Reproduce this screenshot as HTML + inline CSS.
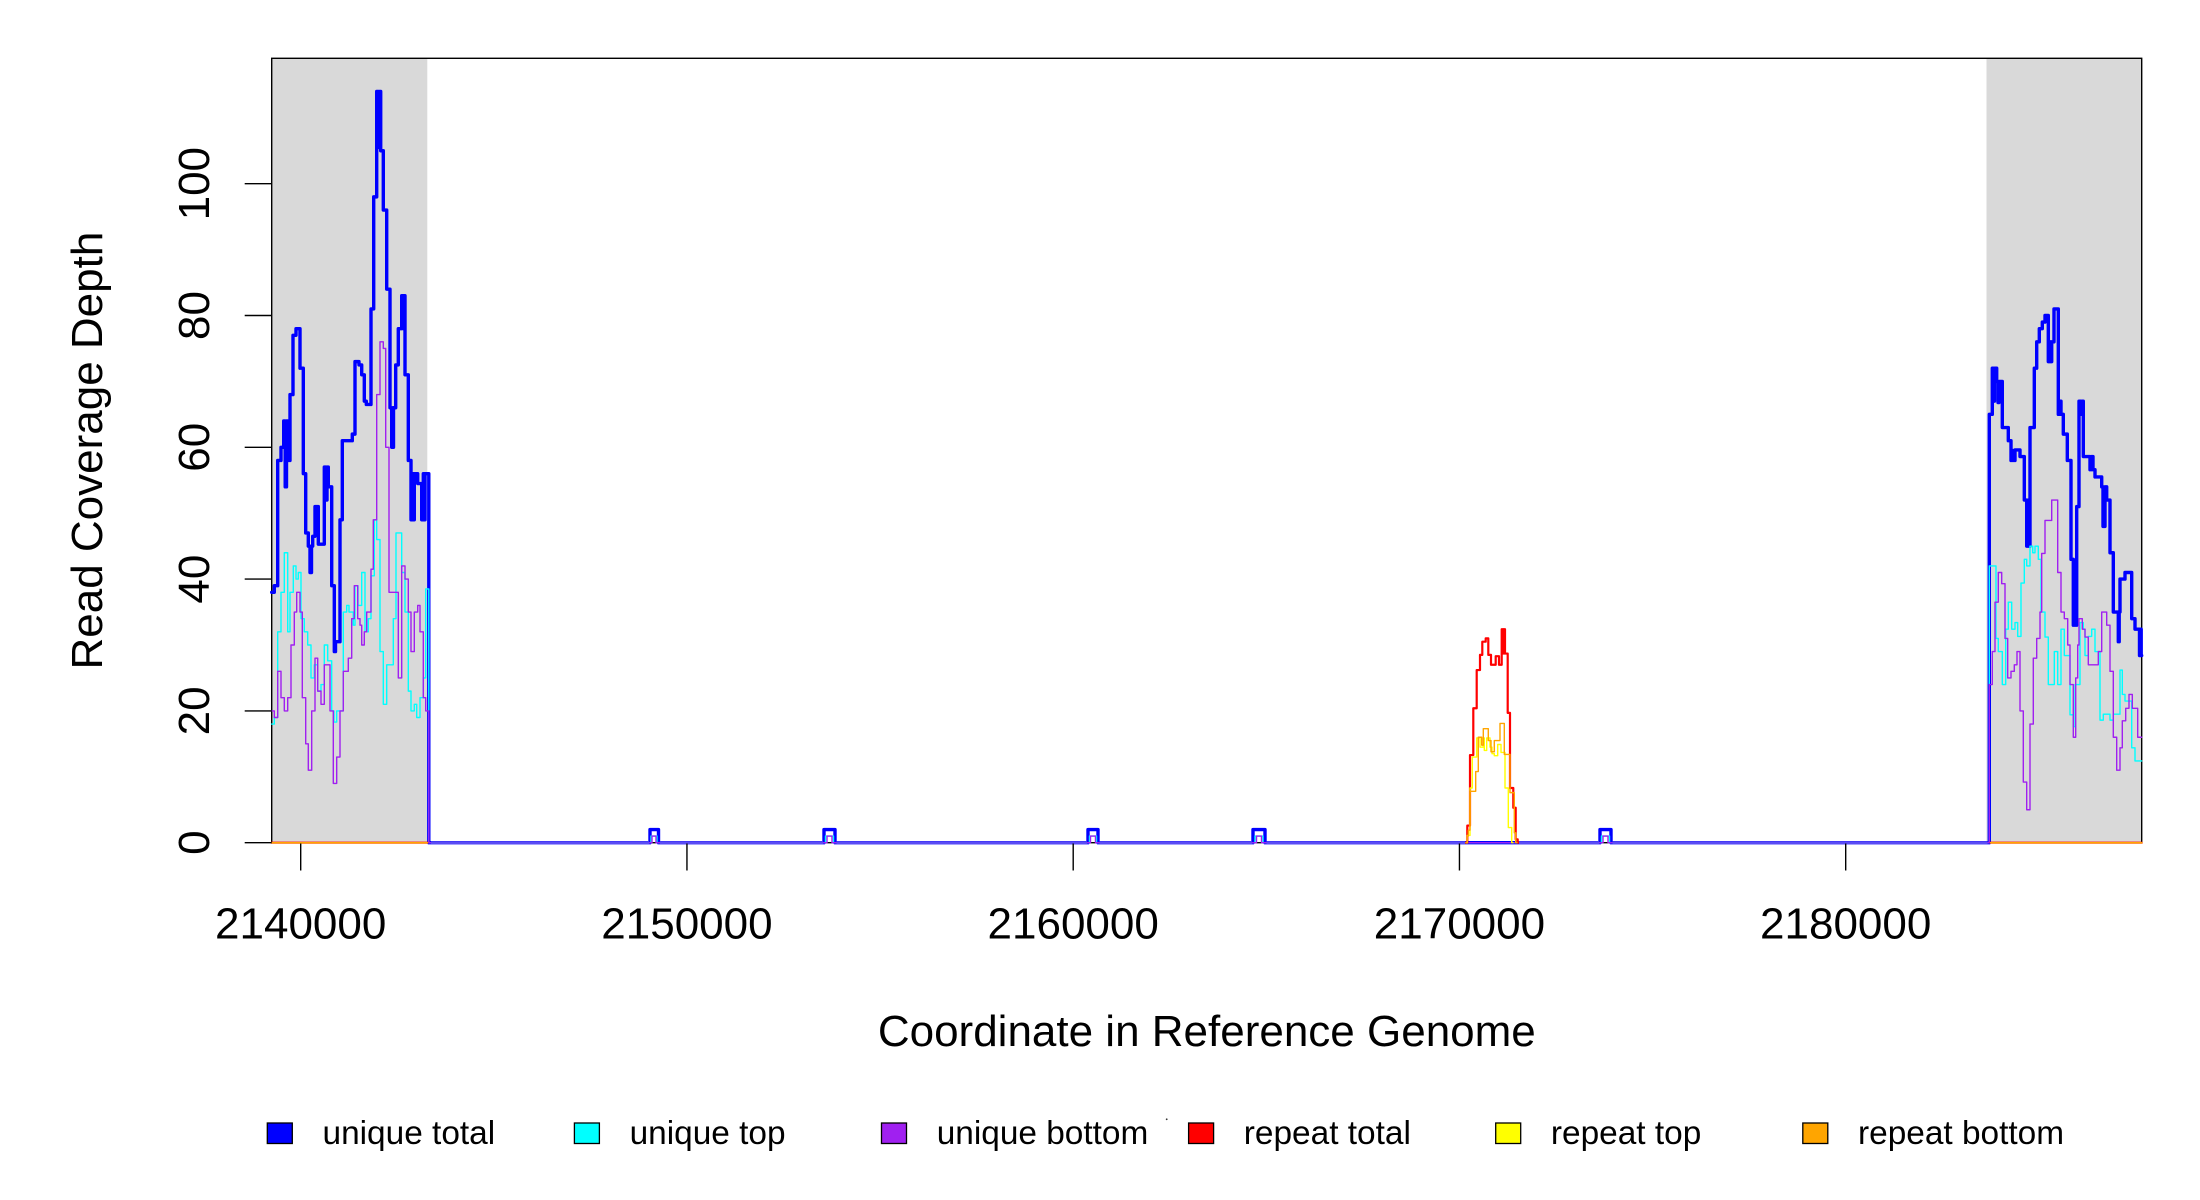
<!DOCTYPE html>
<html>
<head>
<meta charset="utf-8">
<style>
html,body{margin:0;padding:0;background:#fff;}
svg{display:block;}
text{font-family:"Liberation Sans",Arial,sans-serif;fill:#000;}
</style>
</head>
<body>
<svg width="2200" height="1200" viewBox="0 0 2200 1200" xmlns="http://www.w3.org/2000/svg">
<rect x="0" y="0" width="2200" height="1200" fill="#fff"/>
<!-- gray regions -->
<rect x="271.7" y="58.3" width="155.6" height="784.4" fill="#D9D9D9"/>
<rect x="1986.5" y="58.3" width="155.2" height="784.4" fill="#D9D9D9"/>

<!-- box (drawn before series so lines cover bottom edge) -->
<rect x="271.7" y="58.3" width="1870" height="784.4" fill="none" stroke="#000" stroke-width="1.4"/>

<g transform="translate(0,842.7) scale(1,-6.59)" fill="none" stroke-linejoin="round" stroke-linecap="round">
<!-- unique total -->
<path vector-effect="non-scaling-stroke" stroke="#0000FF" stroke-width="3.4" d="M271.7 38 H274.3 V39 H277.7 V58 H281 V60 H283.7 V64 H285.2 V54 H286.5 V64 H287.7 V58 H290 V68 H293 V77 H296 V78 H300 V72 H303.3 V56 H305.7 V47 H308.3 V45 H310 V41 H311.5 V45 H312.7 V46.5 H315 V51 H318.3 V45.3 H324.3 V57 H326 V52 H327 V57 H328.3 V54 H331.7 V39 H334.3 V29 H335.5 V30.5 H340 V49 H342.3 V61 H352.3 V62 H355 V73 H359 V72.5 H361.7 V71 H364.3 V67 H366.3 V66.5 H371 V81 H373.7 V98 H376.7 V114 H378.5 V105.5 H379.5 V114 H380.7 V105 H383.3 V96 H386.7 V84 H390 V66 H391.7 V60 H393.5 V66 H395.7 V72.5 H398.3 V78 H401.7 V83 H403.3 V78 H404 V83 H405 V71 H408.3 V58 H411 V49 H412.7 V56 H413.5 V49 H414.3 V56 H417.7 V54.5 H421.7 V49 H423.3 V56 H424.2 V49 H425 V56 H428.8 V0 H650 V2 H658.5 V0 H824 V2 H835 V0 H1088 V2 H1098 V0 H1253 V2 H1265 V0 H1600 V2 H1611 V0 H1989.3 V65 H1992.3 V72 H1993.5 V67 H1994.5 V72 H1996.7 V70 H1998 V66.8 H1999 V70 H2002.3 V63 H2008.3 V61 H2011 V58 H2013 V59.5 H2014 V58 H2015 V59.6 H2020 V58.6 H2024.3 V52 H2026.7 V45 H2028.3 V52 H2029.2 V45 H2030 V63 H2034.3 V72 H2036.7 V76 H2039.3 V78 H2042.3 V79 H2045 V80 H2048.3 V73 H2050 V76 H2050.8 V73 H2051.7 V76 H2054 V81 H2058.3 V65 H2060 V67 H2061 V65 H2063.3 V62 H2067.3 V58 H2071 V43 H2073.3 V33 H2075 V38 H2076 V33 H2076.7 V51 H2079 V67 H2081 V65 H2082 V67 H2083.3 V58.6 H2090 V56.6 H2091.5 V58.6 H2093 V56.6 H2095 V55.5 H2101.7 V54 H2103 V48 H2105 V54 H2106.7 V52 H2110 V44 H2113.3 V35 H2118.3 V30.5 H2119.2 V35 H2120 V40 H2125 V41 H2131.7 V34 H2135 V32.4 H2139.5 V28.4 H2140.5 V32.4 H2141.2 V28.4 H2141.7"/>
<!-- unique top -->
<path vector-effect="non-scaling-stroke" stroke="#00FFFF" stroke-width="1.4" d="M271.7 18 H274.3 V19 H277.7 V32 H281 V38 H284.3 V44 H287.7 V32 H290 V38 H293.3 V42 H296 V40 H298.3 V41 H301 V34 H304.3 V32 H307.7 V30 H311 V25 H314.3 V27 H317.7 V23 H321 V24 H324.3 V30 H327.7 V27.6 H331.7 V20 H334 V18.3 H336.7 V20 H343.3 V35 H346.7 V36 H349 V35 H353.3 V33 H355 V39 H358 V36 H361.7 V41 H365 V32 H368.3 V34 H371 V40.5 H374.3 V49 H376.7 V46 H380 V29 H383.3 V21 H386.7 V27 H393.3 V34 H396 V47 H401.7 V41 H405 V35 H408.3 V23 H411 V20 H414.3 V21 H416.7 V19 H420 V22 H423.3 V25 H425.7 V38.5 H428.8 V0 H651 V1 H657 V0 H825.5 V1 H833.5 V0 H1089.5 V1 H1096.5 V0 H1255 V1 H1263 V0 H1601.5 V1 H1609.5 V0 H1989.3 V42 H1996 V31 H1998.3 V29 H2002.3 V24 H2005.7 V32.4 H2008.3 V36.5 H2011.7 V32.4 H2015 V33.4 H2017.7 V31.3 H2021 V39.4 H2024.3 V43 H2026.7 V42 H2030 V45 H2032.7 V44 H2035 V45 H2038.3 V43 H2041 V35 H2045 V31.2 H2048.3 V24 H2054.3 V29 H2057.7 V24 H2061 V32.4 H2064.3 V28.4 H2070 V19.4 H2073.3 V17.6 H2075 V24 H2080 V33.4 H2083.3 V32.4 H2085 V28.4 H2088.3 V31.3 H2091.7 V32.4 H2095 V29 H2100 V18.6 H2103.3 V19.5 H2110 V18.6 H2113.3 V19.5 H2120 V26.2 H2122.3 V22.5 H2125 V21.5 H2131.7 V14.4 H2135 V12.4 H2141.7"/>
<!-- unique bottom -->
<path vector-effect="non-scaling-stroke" stroke="#A020F0" stroke-width="1.4" d="M271.7 20 H274.3 V19 H277.7 V26 H281 V22 H284.3 V20 H287.7 V22 H291 V30 H294.3 V35 H296.7 V38 H300 V35 H302.3 V22 H305.7 V15 H308.3 V11 H311.7 V20 H315 V28 H317.7 V23 H321 V21 H324.3 V27 H330 V20 H333.3 V9 H336.7 V13 H340 V20 H343.3 V26 H348.3 V28 H351.7 V34 H354.3 V39 H357.7 V34 H360 V33 H361.7 V30 H364.3 V32 H366.7 V35 H371 V41.5 H373.3 V49 H376.7 V68 H380 V76 H383.3 V75 H385.7 V60 H389 V38 H398.3 V25 H401.7 V42 H405 V40 H408.3 V35 H411 V29 H414.3 V35 H417.7 V36 H420 V32 H423.3 V22 H425.7 V20 H428.8 V0 H652 V1 H656 V0 H827 V1 H832 V0 H1090.5 V1 H1095.5 V0 H1256.5 V1 H1261.5 V0 H1603 V1 H1608 V0 H1989.3 V24 H1992.3 V29 H1995 V36.5 H1998.3 V41 H2001.7 V39.3 H2005 V31 H2007.7 V25 H2011 V26 H2014.3 V27 H2017 V29 H2020 V20 H2023.3 V9.2 H2026.7 V5 H2030 V18 H2033.3 V28 H2036.7 V31 H2040 V35 H2041.7 V43.9 H2045 V48.9 H2051.7 V52 H2057.7 V41 H2061 V35 H2064.3 V34 H2067.7 V30 H2070 V24 H2073.3 V16 H2075.7 V25 H2077.7 V30 H2079 V34 H2082.3 V32.4 H2085 V31.2 H2088.3 V27 H2098.3 V29 H2101.7 V35 H2106.7 V33 H2110 V26 H2113.3 V16 H2116.7 V11 H2120 V14.4 H2122.3 V18.5 H2125.7 V20.4 H2129 V22.5 H2132.3 V20.4 H2137.7 V16 H2141.7"/>
<!-- repeat total -->
<path vector-effect="non-scaling-stroke" stroke="#FF0000" stroke-width="2.2" d="M271.7 0 H427.3 M1465 0 H1467.3 V2.6 H1470 V13.3 H1473.3 V20.4 H1476.7 V26.2 H1480 V28.5 H1482.3 V30.5 H1485.7 V31 H1488.3 V28.5 H1491 V27 H1495.7 V28.3 H1499 V27 H1501.7 V32.4 H1503.3 V28.7 H1504 V32.4 H1505 V28.7 H1507.7 V19.7 H1510 V8.3 H1513.3 V5.3 H1515.7 V0.5 H1517.7 V0 H1519 M1990.7 0 H2141.7"/>
<!-- repeat top -->
<path vector-effect="non-scaling-stroke" stroke="#FFFF00" stroke-width="1.4" d="M271.7 0 H427.3 M1466 0 H1467.3 V1.1 H1470 V8.3 H1472.3 V13 H1476.7 V15.9 H1480 V14.5 H1483.3 V15.9 H1484.3 V14 H1486.7 V15.9 H1490 V14.5 H1492 V13.5 H1494.3 V13.2 H1497.7 V14.9 H1501 V13.7 H1505 V8.3 H1508.3 V2.3 H1511.7 V0 H1513 M1990.7 0 H2141.7"/>
<!-- repeat bottom -->
<path vector-effect="non-scaling-stroke" stroke="#FFA500" stroke-width="1.4" d="M271.7 0 H427.3 M1466 0 H1467.3 V1 H1468.3 V1.9 H1470 V7.8 H1475.7 V10.8 H1478.3 V16 H1481.7 V14.8 H1483.3 V17.3 H1488.3 V15.5 H1491 V13.8 H1494.3 V15.5 H1500 V18.1 H1504.3 V13.4 H1510 V7.6 H1514.3 V1.5 H1515.7 V0 H1517 M1990.7 0 H2141.7"/>
</g>

<!-- zero baseline blend in middle region -->
<g stroke="#5b4cf4" stroke-width="3">
<line x1="431" y1="842.7" x2="649" y2="842.7"/>
<line x1="660" y1="842.7" x2="823" y2="842.7"/>
<line x1="836.5" y1="842.7" x2="1087" y2="842.7"/>
<line x1="1099.5" y1="842.7" x2="1252" y2="842.7"/>
<line x1="1266.5" y1="842.7" x2="1465" y2="842.7"/>
<line x1="1519" y1="842.7" x2="1599" y2="842.7"/>
<line x1="1612.5" y1="842.7" x2="1987.5" y2="842.7"/>
</g>

<!-- y axis ticks -->
<g stroke="#000" stroke-width="1.4">
<line x1="244.7" y1="842.7" x2="271.7" y2="842.7"/>
<line x1="244.7" y1="710.9" x2="271.7" y2="710.9"/>
<line x1="244.7" y1="579.1" x2="271.7" y2="579.1"/>
<line x1="244.7" y1="447.3" x2="271.7" y2="447.3"/>
<line x1="244.7" y1="315.5" x2="271.7" y2="315.5"/>
<line x1="244.7" y1="183.7" x2="271.7" y2="183.7"/>
<!-- x axis ticks -->
<line x1="300.7" y1="843.5" x2="300.7" y2="870.5"/>
<line x1="686.95" y1="843.5" x2="686.95" y2="870.5"/>
<line x1="1073.2" y1="843.5" x2="1073.2" y2="870.5"/>
<line x1="1459.45" y1="843.5" x2="1459.45" y2="870.5"/>
<line x1="1845.7" y1="843.5" x2="1845.7" y2="870.5"/>
</g>

<!-- y tick labels -->
<g font-size="44" text-anchor="middle">
<text transform="translate(209,842.7) rotate(-90)">0</text>
<text transform="translate(209,710.9) rotate(-90)">20</text>
<text transform="translate(209,579.1) rotate(-90)">40</text>
<text transform="translate(209,447.3) rotate(-90)">60</text>
<text transform="translate(209,315.5) rotate(-90)">80</text>
<text transform="translate(209,183.7) rotate(-90)">100</text>
</g>
<!-- x tick labels -->
<g font-size="44" text-anchor="middle">
<text x="300.7" y="938.3">2140000</text>
<text x="686.95" y="938.3">2150000</text>
<text x="1073.2" y="938.3">2160000</text>
<text x="1459.45" y="938.3">2170000</text>
<text x="1845.7" y="938.3">2180000</text>
</g>

<!-- axis titles -->
<text x="1206.8" y="1046" font-size="44" text-anchor="middle">Coordinate in Reference Genome</text>
<text transform="translate(102,450.6) rotate(-90)" font-size="44" text-anchor="middle">Read Coverage Depth</text>

<!-- legend -->
<g stroke="#000" stroke-width="1.3">
<rect x="267.3" y="1123" width="25" height="20.5" fill="#0000FF"/>
<rect x="574.4" y="1123" width="25" height="20.5" fill="#00FFFF"/>
<rect x="881.5" y="1123" width="25" height="20.5" fill="#A020F0"/>
<rect x="1188.6" y="1123" width="25" height="20.5" fill="#FF0000"/>
<rect x="1495.7" y="1123" width="25" height="20.5" fill="#FFFF00"/>
<rect x="1802.8" y="1123" width="25" height="20.5" fill="#FFA500"/>
</g>
<g font-size="33.4">
<text x="322.5" y="1144">unique total</text>
<text x="629.6" y="1144">unique top</text>
<text x="936.7" y="1144">unique bottom</text>
<text x="1243.8" y="1144">repeat total</text>
<text x="1550.9" y="1144">repeat top</text>
<text x="1858" y="1144">repeat bottom</text>
</g>
<circle cx="1166.7" cy="1119.3" r="0.9" fill="#333"/>
</svg>
</body>
</html>
